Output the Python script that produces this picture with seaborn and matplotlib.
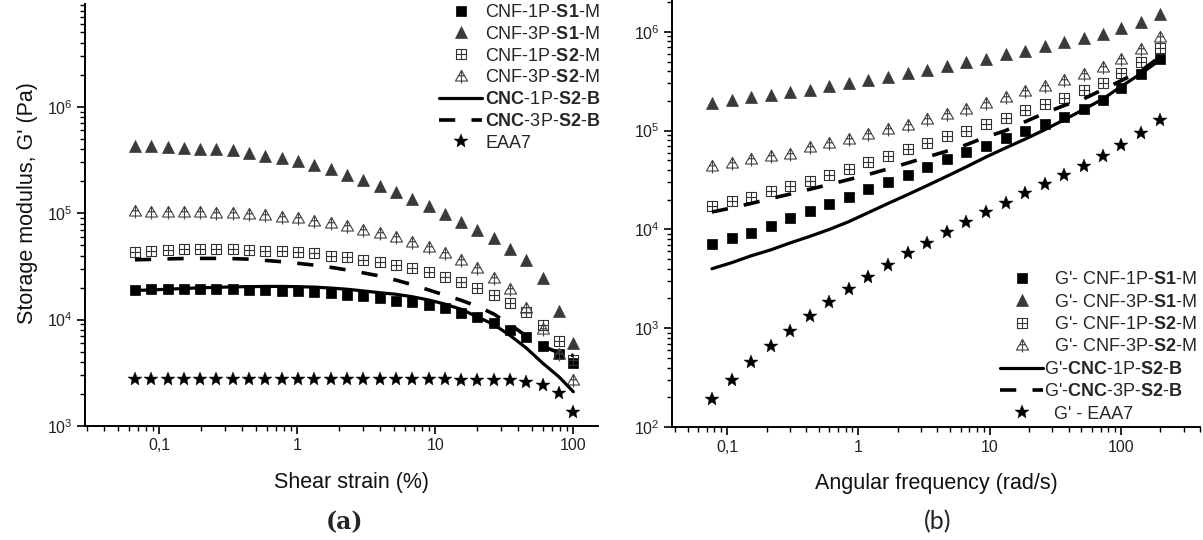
import numpy as np
import pandas as pd
import matplotlib
matplotlib.use("Agg")
import matplotlib.pyplot as plt
from matplotlib.path import Path
from matplotlib.ticker import LogLocator, FuncFormatter, NullFormatter, LogFormatterSciNotation
import seaborn as sns

# ---------------- data (a) amplitude sweep ----------------
strain = [0.0667, 0.0875, 0.115, 0.151, 0.198, 0.260, 0.341, 0.448, 0.588, 0.772,
          1.01, 1.33, 1.75, 2.29, 3.01, 3.95, 5.19, 6.81, 8.94, 11.7,
          15.4, 20.2, 26.5, 34.8, 45.7, 60.0, 78.7, 100.0]
a_cnf1p_s1 = [18900, 19200, 19300, 19400, 19400, 19400, 19300, 18900, 18800, 18600,
              18500, 18200, 17800, 17100, 16600, 15900, 15100, 14500, 13700, 12800,
              11600, 10500, 9300, 8000, 6800, 5700, 4700, 3900]
a_cnf3p_s1 = [427000, 427000, 420000, 414000, 405000, 405000, 396000, 367000, 348000, 331000,
              307000, 281000, 258000, 231000, 203000, 180000, 157000, 137000, 116000, 98000,
              83000, 70000, 58000, 46000, 36000, 24500, 12000, 6050]
a_cnf1p_s2 = [43600, 44600, 45300, 45900, 45600, 45600, 45600, 45300, 44600, 44000,
              43000, 42000, 39900, 39000, 36500, 34600, 32600, 30700, 28100, 25300,
              22800, 19900, 17100, 14300, 11800, 8900, 6300, 4200]
a_cnf3p_s2 = [104000, 103000, 103000, 102000, 102000, 101000, 100000, 97800, 95700, 92900,
              89400, 84200, 80500, 75300, 69900, 64900, 59300, 53800, 48100, 42400,
              36200, 30300, 24500, 19200, 12800, 8100, 4700, 2700]
a_cnc1p_s2 = [18800, 19000, 19300, 19600, 19900, 20100, 20300, 20400, 20500, 20500,
              20400, 20200, 19800, 19300, 18600, 17900, 17300, 16400, 15300, 14000,
              12500, 10600, 9000, 7100, 5400, 3900, 2900, 2100]
a_cnc3p_s2 = [36500, 36800, 37200, 37500, 37600, 37600, 37400, 37000, 36000, 35000,
              33800, 32500, 31000, 29300, 27500, 25700, 23500, 21300, 19000, 17000,
              15200, 13300, 11300, 9000, 7000, 5600, 4900, 4600]
a_eaa7 = [2750, 2750, 2740, 2740, 2740, 2740, 2740, 2740, 2740, 2740,
          2740, 2740, 2740, 2740, 2740, 2740, 2740, 2740, 2740, 2740,
          2730, 2730, 2720, 2690, 2600, 2450, 2050, 1360]

# ---------------- data (b) frequency sweep ----------------
freq = [0.0766, 0.108, 0.152, 0.214, 0.302, 0.426, 0.600, 0.846, 1.19, 1.68,
        2.37, 3.34, 4.71, 6.64, 9.36, 13.2, 18.6, 26.2, 37.0, 52.1,
        73.5, 100.0, 141.0, 199.0]
b_cnf1p_s1 = [7200, 8200, 9200, 10800, 12900, 15300, 18000, 21500, 25800, 30100,
              35900, 42800, 51100, 61000, 70000, 84000, 98800, 116000, 136000, 167000,
              204000, 270000, 372000, 526000]
b_cnf3p_s1 = [191000, 204000, 217000, 228000, 247000, 255000, 281000, 304000, 324000, 352000,
              387000, 413000, 455000, 493000, 534000, 593000, 643000, 713000, 786000, 865000,
              961000, 1100000, 1270000, 1500000]
b_cnf1p_s2 = [17300, 19300, 21500, 24200, 27300, 30800, 35300, 40800, 48000, 55400,
              64500, 74600, 87500, 100000, 116000, 134000, 160000, 188000, 215000, 255000,
              304000, 387000, 493000, 679000]
b_cnf3p_s2 = [44300, 47200, 51100, 56000, 58000, 68800, 74600, 82800, 92700, 103000,
              114000, 131000, 148000, 167000, 191000, 221000, 249000, 285000, 324000, 378000,
              437000, 526000, 669000, 879000]
b_cnc1p_s2 = [4000, 4600, 5400, 6200, 7300, 8500, 10000, 12000, 14800, 18300,
              22500, 27800, 34500, 43000, 54000, 66800, 82000, 102000, 129000, 164000,
              211000, 279000, 376000, 520000]
b_cnc3p_s2 = [15000, 16500, 18300, 20500, 22800, 25500, 28500, 32000, 36000, 41000,
              47000, 54000, 62000, 72000, 86000, 100000, 123000, 150000, 180000, 210000,
              262000, 320000, 400000, 560000]
b_eaa7 = [192, 296, 453, 656, 934, 1340, 1850, 2490, 3320, 4410,
          5790, 7370, 9460, 11800, 14900, 18600, 23300, 28500, 35300, 44300,
          55000, 71600, 94200, 128000]

labels_a = ["CNF-1P-$\\mathbf{S1}$-M", "CNF-3P-$\\mathbf{S1}$-M",
            "CNF-1P-$\\mathbf{S2}$-M", "CNF-3P-$\\mathbf{S2}$-M",
            "$\\mathbf{CNC}$-1P-$\\mathbf{S2}$-$\\mathbf{B}$",
            "$\\mathbf{CNC}$-3P-$\\mathbf{S2}$-$\\mathbf{B}$", "EAA7"]
labels_b = ["  G'- CNF-1P-$\\mathbf{S1}$-M", "  G'- CNF-3P-$\\mathbf{S1}$-M",
            "  G'- CNF-1P-$\\mathbf{S2}$-M", "  G'- CNF-3P-$\\mathbf{S2}$-M",
            "G'-$\\mathbf{CNC}$-1P-$\\mathbf{S2}$-$\\mathbf{B}$",
            "G'-$\\mathbf{CNC}$-3P-$\\mathbf{S2}$-$\\mathbf{B}$", "  G' - EAA7"]

# ---------------- style ----------------
sns.set_theme(style="ticks")
plt.rcParams["font.family"] = ["Liberation Sans", "DejaVu Sans"]
plt.rcParams["mathtext.fontset"] = "custom"
plt.rcParams["mathtext.rm"] = "Liberation Sans"
plt.rcParams["mathtext.bf"] = "Liberation Sans:bold"
plt.rcParams["mathtext.it"] = "Liberation Sans:italic"
plt.rcParams["mathtext.sf"] = "Liberation Sans"

M, L = Path.MOVETO, Path.LINETO
sq_cross = Path([(-1, -1), (1, -1), (1, 1), (-1, 1), (-1, -1), (-1, 0), (1, 0), (0, -1), (0, 1)],
                [M, L, L, L, Path.CLOSEPOLY, M, L, M, L])
tri_cross = Path([(-1, -0.75), (1, -0.75), (0, 1), (-1, -0.75), (-0.5, 0.12), (0.5, 0.12), (0, 1), (0, -1.15)],
                 [M, L, L, Path.CLOSEPOLY, M, L, M, L])

styles = [
    dict(marker="s", markersize=7.2, markerfacecolor="black", markeredgecolor="black", markeredgewidth=0.5, linestyle="", color="black"),
    dict(marker="^", markersize=9, markerfacecolor="#3a3a3a", markeredgecolor="#3a3a3a", markeredgewidth=0.5, linestyle="", color="#3a3a3a"),
    dict(marker=sq_cross, markersize=6.5, markerfacecolor="none", markeredgecolor="#333333", markeredgewidth=0.8, linestyle="", color="#333333"),
    dict(marker=tri_cross, markersize=10, markerfacecolor="none", markeredgecolor="#444444", markeredgewidth=0.8, linestyle="", color="#444444"),
    dict(marker=None, linestyle="-", linewidth=2.3, color="black"),
    dict(marker=None, linestyle=(0, (4.5, 4.5)), linewidth=2.6, color="black"),
    dict(marker="*", markersize=10, markerfacecolor="black", markeredgecolor="black", markeredgewidth=0.3, linestyle="", color="black"),
]

fig = plt.figure(figsize=(12.03, 5.4), dpi=100)
axL = fig.add_axes([85 / 1203, 1 - 426 / 540, (598 - 85) / 1203, 422 / 540])
axR = fig.add_axes([672 / 1203, 1 - 427 / 540, (1200 - 672) / 1203, 427 / 540])


def draw(ax, x, ys, labels):
    for y, lab, st in zip(ys, labels, styles):
        df = pd.DataFrame({"x": x, "y": y})
        sns.lineplot(data=df, x="x", y="y", ax=ax, label=lab, legend=False,
                     estimator=None, sort=False, **st)


draw(axL, strain, [a_cnf1p_s1, a_cnf3p_s1, a_cnf1p_s2, a_cnf3p_s2, a_cnc1p_s2, a_cnc3p_s2, a_eaa7], labels_a)
draw(axR, freq, [b_cnf1p_s1, b_cnf3p_s1, b_cnf1p_s2, b_cnf3p_s2, b_cnc1p_s2, b_cnc3p_s2, b_eaa7], labels_b)


def comma_fmt(v, pos):
    s = "%g" % v
    return s.replace(".", ",")


for ax in (axL, axR):
    ax.set_xscale("log")
    ax.set_yscale("log")
    ax.xaxis.set_major_locator(LogLocator(base=10, numticks=20))
    ax.xaxis.set_minor_locator(LogLocator(base=10, subs=np.arange(2, 10), numticks=20))
    ax.xaxis.set_major_formatter(FuncFormatter(comma_fmt))
    ax.xaxis.set_minor_formatter(NullFormatter())
    ax.yaxis.set_major_locator(LogLocator(base=10, numticks=20))
    ax.yaxis.set_minor_locator(LogLocator(base=10, subs=np.arange(2, 10), numticks=20))
    ax.yaxis.set_major_formatter(LogFormatterSciNotation())
    ax.yaxis.set_minor_formatter(NullFormatter())
    for sp in ("top", "right"):
        ax.spines[sp].set_visible(False)
    for sp in ("left", "bottom"):
        ax.spines[sp].set_color("black")
        ax.spines[sp].set_linewidth(1.4)
    ax.tick_params(which="major", direction="out", length=6, width=1.2, color="black",
                   labelsize=11.5, labelcolor="#222222", pad=3)
    ax.tick_params(which="minor", direction="out", length=3.5, width=1.0, color="black")
    ax.set_facecolor("white")

axL.set_xlim(0.029, 151)
axL.set_ylim(1000, 9.25e6)
axR.set_xlim(0.038, 400)
axR.set_ylim(100, 2.1e6)

axL.set_xlabel("Shear strain (%)", fontsize=15.5, color="#111111", labelpad=13)
axL.set_ylabel("Storage modulus, G' (Pa)", fontsize=15.5, color="#111111", labelpad=6)
axR.set_xlabel("Angular frequency (rad/s)", fontsize=15.5, color="#111111", labelpad=13)
axR.set_ylabel("")
axL.xaxis.label.set_x((351 - 85) / 513)
axL.yaxis.label.set_y((426 - 203) / 422)

hL, lL = axL.get_legend_handles_labels()
axL.legend(hL, lL, loc="upper right", bbox_to_anchor=(1.005, 1.0), frameon=False,
           fontsize=13, handlelength=2.35, handletextpad=0.2, labelspacing=0.265,
           borderpad=0, borderaxespad=0)
hR, lR = axR.get_legend_handles_labels()
axR.legend(hR, lR, loc="lower right", bbox_to_anchor=(0.995, 0.01), frameon=False,
           fontsize=13, handlelength=2.37, handletextpad=0.08, labelspacing=0.3,
           borderpad=0, borderaxespad=0)

fig.text(345 / 1203, 1 - 522 / 540, "(a)", ha="center", va="center", fontsize=17,
         fontweight="bold", family=["DejaVu Serif"])
fig.text(938 / 1203, 1 - 522 / 540, "(b)", ha="center", va="center", fontsize=18,
         family=["Lato", "DejaVu Sans"])

fig.savefig("out.png", dpi=100, facecolor="white")
